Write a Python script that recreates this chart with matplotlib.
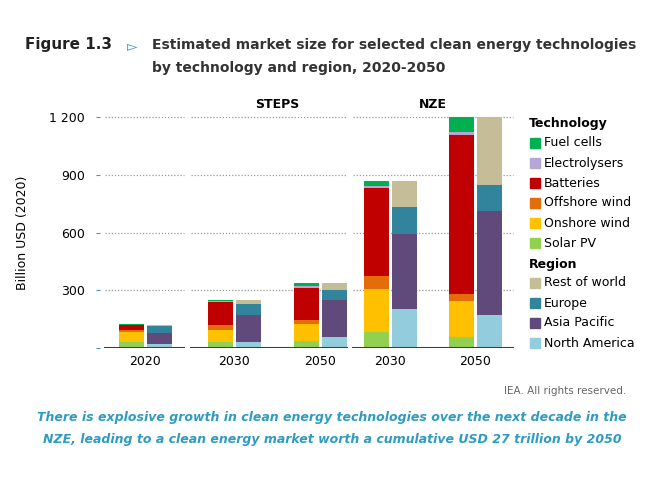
import matplotlib
matplotlib.use("Agg")
import matplotlib.pyplot as plt
from matplotlib.patches import Rectangle

groups = ["2020", "2030", "2050", "2030", "2050"]
tech_names = ["Solar PV", "Onshore wind", "Offshore wind", "Batteries", "Electrolysers", "Fuel cells"]
tech_colors = ["#92d050", "#ffc000", "#e46c0a", "#c00000", "#b4a7d6", "#00b050"]
solar = [29, 29, 35, 81, 55]
onshore = [54, 66, 91, 226, 190]
offshore = [12, 24, 21, 69, 35]
batteries = [26, 121, 167, 456, 829]
electrolysers = [1, 5, 6, 11, 15]
fuelcells = [1, 3, 20, 27, 76]
region_names = ["North America", "Asia Pacific", "Europe", "Rest of world"]
region_colors = ["#93cddd", "#604a7b", "#31849b", "#c4bd97"]
north_america = [22, 33, 55, 202, 173]
asia_pacific = [56, 140, 192, 390, 537]
europe = [34, 57, 53, 142, 138]
rest_world = [9, 17, 40, 136, 352]

W, H = 664, 498
fig = plt.figure(figsize=(W/100, H/100), dpi=100)
ax = fig.add_axes([100/W, 1-348/H, 418/W, (348-117)/H])
ax.set_xlim(100, 518)
ax.set_ylim(0, 1200)
for s in ax.spines.values():
    s.set_visible(False)

tech = [solar, onshore, offshore, batteries, electrolysers, fuelcells]
reg = [north_america, asia_pacific, europe, rest_world]
centers = [145, 234, 320, 390, 475]
bw = 25
for i, c in enumerate(centers):
    b = 0
    for vals, col in zip(tech, tech_colors):
        ax.bar(c-14, vals[i], bw, bottom=b, color=col, zorder=3)
        b += vals[i]
    b = 0
    for vals, col in zip(reg, region_colors):
        ax.bar(c+14, vals[i], bw, bottom=b, color=col, zorder=3)
        b += vals[i]

segs = [(105, 184), (191, 347), (353, 513)]
for x0, x1 in segs:
    for yv in [300, 600, 900, 1200]:
        ax.plot([x0, x1], [yv, yv], ls=(0, (1, 1.5)), color="#999999", lw=0.9, zorder=1, clip_on=False)
    ax.plot([x0, x1], [0, 0], color="#404040", lw=1.5, zorder=4)

ax.set_yticks([0, 300, 600, 900, 1200])
ax.set_yticklabels(["", "300", "600", "900", "1 200"], fontsize=9)
ax.tick_params(axis="y", length=3, color="#4a90c0", pad=8)
ax.set_xticks(centers)
ax.set_xticklabels(groups, fontsize=9)
ax.tick_params(axis="x", length=0, pad=5)
ax.set_ylabel("Billion USD (2020)", fontsize=9)
ax.yaxis.set_label_coords(-0.17, 0.5)

fig.text(277/W, 1-105/H, "STEPS", fontsize=9, weight="bold", ha="center", va="center")
fig.text(433/W, 1-105/H, "NZE", fontsize=9, weight="bold", ha="center", va="center")

def legrow(y, name, col):
    fig.patches.append(Rectangle(((530)/W, 1-(y+5)/H), 10/W, 10/H, color=col, transform=fig.transFigure))
    fig.text(544/W, 1-y/H, name, fontsize=9, va="center")
fig.text(529/W, 1-123/H, "Technology", fontsize=9, weight="bold", va="center")
for k, (n, c) in enumerate(zip(tech_names[::-1], tech_colors[::-1])):
    legrow(143+k*20, n, c)
fig.text(529/W, 1-264/H, "Region", fontsize=9, weight="bold", va="center")
for k, (n, c) in enumerate(zip(region_names[::-1], region_colors[::-1])):
    legrow(283+k*20, n, c)

fig.text(25/W, 1-45/H, "Figure 1.3", fontsize=11, weight="bold", va="center", color="#222222")
fig.text(127/W, 1-46/H, "▻", fontsize=10, weight="bold", va="center", color="#2e9bc0")
fig.text(152/W, 1-45/H, "Estimated market size for selected clean energy technologies", fontsize=10, weight="bold", va="center", color="#333333")
fig.text(152/W, 1-68/H, "by technology and region, 2020-2050", fontsize=10, weight="bold", va="center", color="#333333")
fig.text(626/W, 1-391/H, "IEA. All rights reserved.", fontsize=7.5, ha="right", va="center", color="#666666")
fig.text(332/W, 1-417/H, "There is explosive growth in clean energy technologies over the next decade in the", fontsize=9, style="italic", weight="bold", ha="center", va="center", color="#2e9bc0")
fig.text(332/W, 1-439/H, "NZE, leading to a clean energy market worth a cumulative USD 27 trillion by 2050", fontsize=9, style="italic", weight="bold", ha="center", va="center", color="#2e9bc0")

fig.savefig("out.png", dpi=100)
